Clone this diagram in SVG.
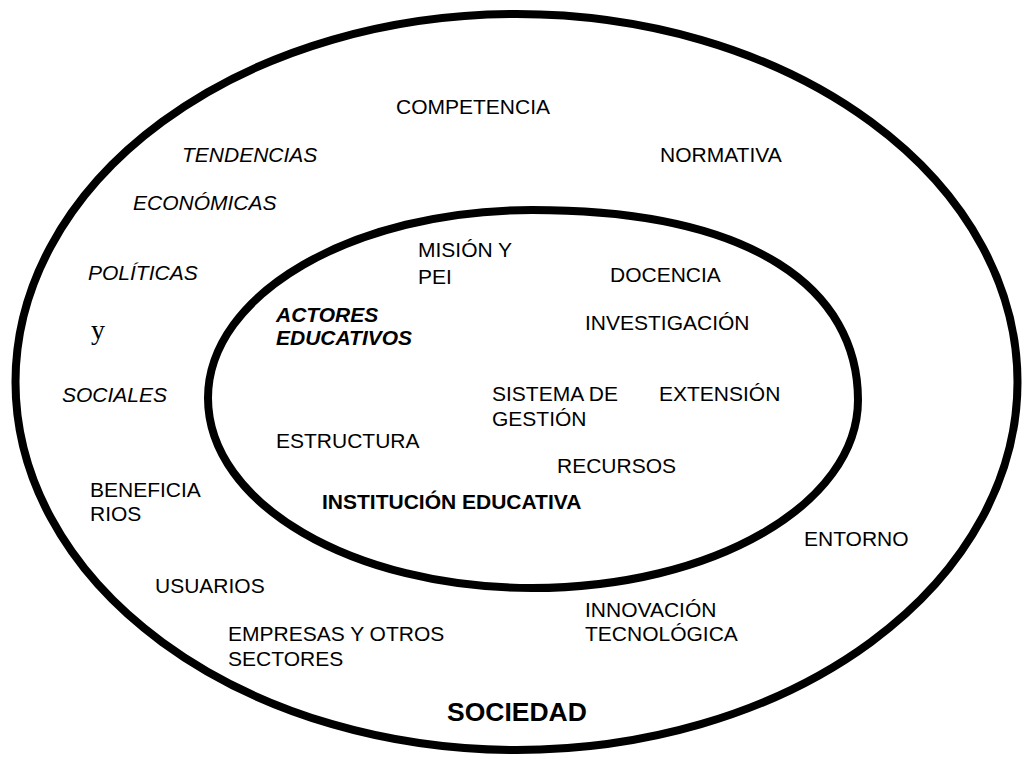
<svg xmlns="http://www.w3.org/2000/svg" width="1022" height="759" viewBox="0 0 1022 759">
<style>
text{font-family:"Liberation Sans",Arial,sans-serif;font-size:21px;fill:#000}
.i{font-style:italic}
.b{font-weight:bold}
.ring{fill:none;stroke:#000;stroke-width:8}
</style>
<rect width="1022" height="759" fill="#fff"/>
<g id="sociedad">
<ellipse class="ring" cx="516.5" cy="382" rx="501" ry="368"/>
<text x="396" y="114">COMPETENCIA</text>
<text class="i" x="182" y="162">TENDENCIAS</text>
<text x="660" y="162">NORMATIVA</text>
<text class="i" x="133" y="210">ECONÓMICAS</text>
<text class="i" x="88" y="280">POLÍTICAS</text>
<text x="91" y="339" style="font-family:'Liberation Serif','Times New Roman',serif;font-size:28px">y</text>
<text class="i" x="62" y="402">SOCIALES</text>
<text x="90" y="497">BENEFICIA</text>
<text x="90" y="521">RIOS</text>
<text x="804" y="546">ENTORNO</text>
<text x="155" y="593">USUARIOS</text>
<text x="585" y="617">INNOVACIÓN</text>
<text x="585" y="641">TECNOLÓGICA</text>
<text x="228" y="641">EMPRESAS Y OTROS</text>
<text x="228" y="666">SECTORES</text>
<text class="b" x="447" y="721" style="font-size:26.5px">SOCIEDAD</text>
</g>
<g id="institucion">
<path class="ring" d="M532,210 C755,210 858,290 858,400 C858,504 713,588 532,588 C353,588 208,504 208,398 C208,294 353,210 532,210 Z"/>
<text x="418" y="257">MISIÓN Y</text>
<text x="418" y="284">PEI</text>
<text x="610" y="282">DOCENCIA</text>
<text class="i b" x="276" y="322">ACTORES</text>
<text class="i b" x="276" y="345">EDUCATIVOS</text>
<text x="585" y="330">INVESTIGACIÓN</text>
<text x="492" y="401">SISTEMA DE</text>
<text x="492" y="426">GESTIÓN</text>
<text x="659" y="401">EXTENSIÓN</text>
<text x="276" y="448">ESTRUCTURA</text>
<text x="557" y="473">RECURSOS</text>
<text class="b" x="322" y="509">INSTITUCIÓN EDUCATIVA</text>
</g>
</svg>
